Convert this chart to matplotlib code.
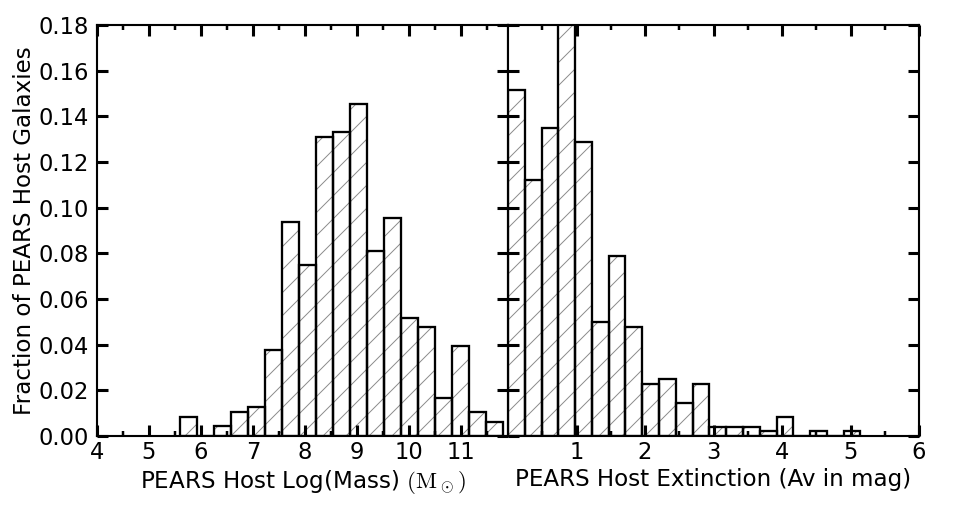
import numpy as np
import matplotlib
matplotlib.use("Agg")
import matplotlib.pyplot as plt

# ---- data ----
mass_edges_range = (5.60, 11.81)
mass_fraction = [0.0083, 0.0, 0.0042, 0.0105, 0.0125, 0.0375, 0.0937, 0.0747,
                 0.1309, 0.1330, 0.1455, 0.0809, 0.0955, 0.0518, 0.0477,
                 0.0166, 0.0393, 0.0105, 0.0062]
av_edges_range = (0.0, 5.145)
av_fraction = [0.1517, 0.1120, 0.1350, 0.1900, 0.1288, 0.0499, 0.0788, 0.0477,
               0.0226, 0.0250, 0.0145, 0.0228, 0.0041, 0.0041, 0.0041, 0.0020,
               0.0083, 0.0, 0.0020, 0.0, 0.0020]
mass_ticks = [4, 5, 6, 7, 8, 9, 10, 11]
av_ticks = [1, 2, 3, 4, 5, 6]
y_ticks = [0.00, 0.02, 0.04, 0.06, 0.08, 0.10, 0.12, 0.14, 0.16, 0.18]

DPI = 138
plt.rcParams['mathtext.fontset'] = 'cm'
plt.rcParams['hatch.linewidth'] = 0.5
plt.rcParams['font.family'] = ['DejaVu Sans']

fig = plt.figure(figsize=(969 / DPI, 513 / DPI), dpi=DPI)
W, H = 969, 513
axL = fig.add_axes([97 / W, 1 - 436 / H, (508 - 97) / W, (436 - 25) / H])
axR = fig.add_axes([508 / W, 1 - 436 / H, (919 - 508) / W, (436 - 25) / H])

FS = 11.8
LFS = 12.0


def draw_hist(ax, rng, vals):
    edges = np.linspace(rng[0], rng[1], len(vals) + 1)
    widths = np.diff(edges)
    ax.bar(edges[:-1], vals, width=widths, align='edge', color='white',
           edgecolor='#8a8a8a', hatch='//', linewidth=0)
    ax.bar(edges[:-1], vals, width=widths, align='edge', fill=False,
           edgecolor='black', linewidth=1.2)


draw_hist(axL, mass_edges_range, mass_fraction)
draw_hist(axR, av_edges_range, av_fraction)

axL.set_xlim(4, 11.91)
axR.set_xlim(0, 6)
for ax in (axL, axR):
    ax.set_ylim(0, 0.18)
    ax.set_yticks(y_ticks)
    for s in ax.spines.values():
        s.set_linewidth(1.1)
    ax.tick_params(which='major', direction='in', length=5.8, width=1.6,
                   top=True, right=True, labelsize=FS, pad=4)
    ax.tick_params(axis='x', which='major', pad=2.5)
    ax.tick_params(which='minor', direction='in', length=2.8, width=1.3,
                   top=True, right=True)

axL.set_xticks(mass_ticks)
axL.set_xticklabels([str(t) for t in mass_ticks])
axL.set_xticks(np.arange(4.5, 12, 1.0), minor=True)
axL.set_yticklabels(['%.2f' % t for t in y_ticks])

axR.set_xticks(av_ticks)
axR.set_xticklabels([str(t) for t in av_ticks])
axR.set_xticks(np.arange(0.5, 6, 1.0), minor=True)
axR.set_yticklabels([])

axL.set_xlabel(r'PEARS Host Log(Mass) $(\mathrm{M}_\odot)$', fontsize=LFS, labelpad=2)
axR.set_xlabel('PEARS Host Extinction (Av in mag)', fontsize=LFS, labelpad=2)
axL.set_ylabel('Fraction of PEARS Host Galaxies', fontsize=LFS, labelpad=1.5)

fig.savefig('out.png', dpi=DPI)
